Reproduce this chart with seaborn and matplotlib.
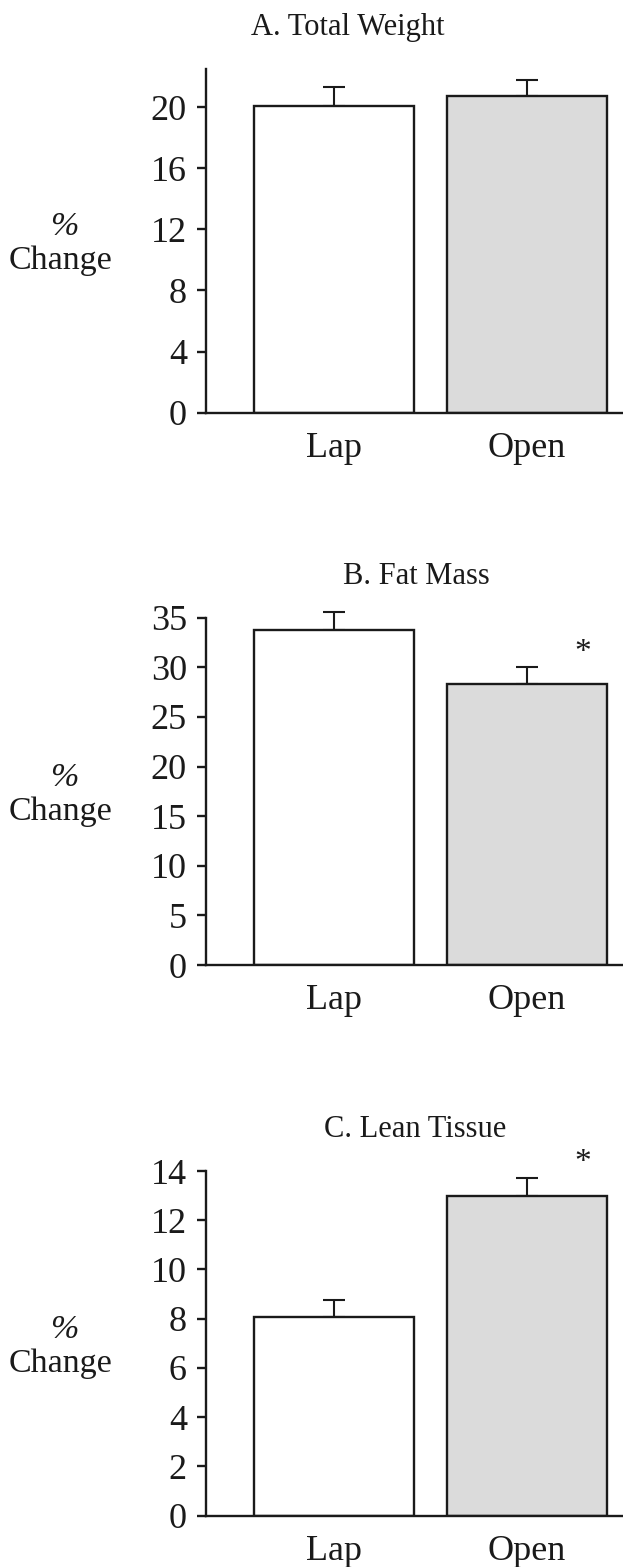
import matplotlib
matplotlib.use("Agg")
import matplotlib.pyplot as plt
import seaborn as sns
import pandas as pd

groups = ["Lap", "Open"]
panel_titles = ["A. Total Weight", "B. Fat Mass", "C. Lean Tissue"]
total_weight = [20.1, 20.7]
total_weight_err = [1.2, 1.1]
fat_mass = [33.8, 28.3]
fat_mass_err = [1.8, 1.7]
lean_tissue = [8.05, 13.0]
lean_tissue_err = [0.7, 0.7]
yticks_a = [0, 4, 8, 12, 16, 20]
yticks_b = [0, 5, 10, 15, 20, 25, 30, 35]
yticks_c = [0, 2, 4, 6, 8, 10, 12, 14]
ylims = [22.5, 35, 14]
sig_a = None
sig_b = 31.5
sig_c = 14.35
ylabel_top = "%"
ylabel_bottom = "Change"

sns.set_theme(style="white")
plt.rcParams["font.family"] = ["Liberation Serif", "DejaVu Serif"]

fig = plt.figure(figsize=(6.23, 15.67), dpi=100)
W, H = 623.0, 1567.0
ax_left = 205.7 / W
ax_width = (623.0 - 205.7) / W
panel_px = [(69.0, 412.7), (617.7, 965.0), (1171.0, 1515.7)]
title_x = [0.340, 0.506, 0.503]

values = [total_weight, fat_mass, lean_tissue]
errs = [total_weight_err, fat_mass_err, lean_tissue_err]
yticks = [yticks_a, yticks_b, yticks_c]
sigs = [sig_a, sig_b, sig_c]

colors = {"Lap": "#FFFFFF", "Open": "#DBDBDB"}
ink = "#1a1a1a"
lw = 1.7

for i in range(3):
    top, bot = panel_px[i]
    ax = fig.add_axes([ax_left, 1 - bot / H, ax_width, (bot - top) / H])
    df = pd.DataFrame({"group": groups, "value": values[i]})
    sns.barplot(data=df, x="group", y="value", hue="group", palette=colors,
                order=groups, hue_order=groups, legend=False,
                edgecolor=ink, linewidth=lw, width=0.83, errorbar=None,
                ax=ax, zorder=2)
    eb = ax.errorbar(x=[0, 1], y=values[i], yerr=[[0, 0], errs[i]], fmt="none",
                     ecolor=ink, elinewidth=1.5, capsize=7.8, capthick=1.5,
                     zorder=1)
    for art in eb.get_children():
        art.set_clip_on(False)
    ax.set_xlim(-0.665, 1.497)
    ax.set_ylim(0, ylims[i])
    ax.set_yticks(yticks[i])
    ax.set_yticklabels([str(t) for t in yticks[i]], fontsize=26)
    ax.tick_params(axis="y", direction="out", length=6.5, width=lw,
                   color=ink, pad=7, left=True, labelcolor=ink)
    ax.tick_params(axis="x", length=0, pad=14, labelsize=26, labelcolor=ink)
    for s in ["top", "right"]:
        ax.spines[s].set_visible(False)
    for s in ["left", "bottom"]:
        ax.spines[s].set_linewidth(lw)
        ax.spines[s].set_color(ink)
    ax.set_xlabel("")
    ax.set_ylabel(ylabel_bottom, rotation=0, fontsize=24.5, ha="center",
                  va="center", color=ink)
    ax.yaxis.set_label_coords(-0.349, 0.441)
    ax.text(-0.34, 0.54, ylabel_top, transform=ax.transAxes, ha="center",
            va="center", fontsize=24.5, fontstyle="italic", color=ink)
    ax.annotate(panel_titles[i], xy=(title_x[i], 1.0), xycoords="axes fraction",
                xytext=(0, 24.5), textcoords="offset points", ha="center",
                va="baseline", fontsize=22, color=ink,
                annotation_clip=False)
    if sigs[i] is not None:
        ax.text(1.29, sigs[i], "*", ha="center", va="center", fontsize=24,
                color=ink, clip_on=False)

fig.savefig("out.png", dpi=100)
